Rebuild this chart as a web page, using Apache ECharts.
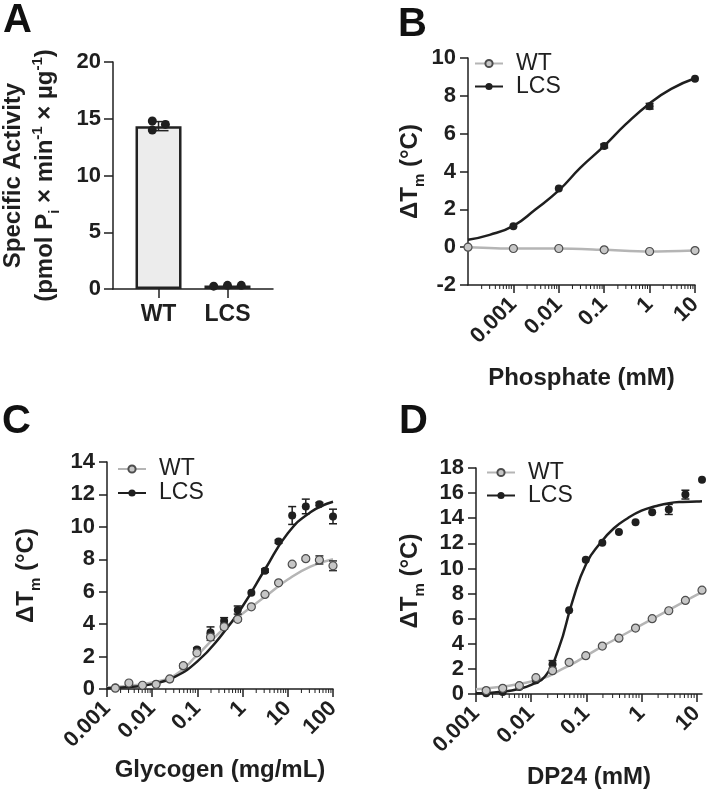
<!DOCTYPE html>
<html>
<head>
<meta charset="utf-8">
<script src="https://cdn.jsdelivr.net/npm/echarts@6/dist/echarts.min.js"></script>
<style>
  html, body { margin: 0; padding: 0; background: #fff; }
  #chart { width: 708px; height: 791px; }
</style>
</head>
<body>
<div id="chart"></div>
<script>
// ---- A: specific activity ----
const groups = ['WT', 'LCS']
const activityMean = [14.35, 0.3]
const activitySD = [0.4, 0]
const activityDots = [[14.8, 14.0, 14.5], [0.25, 0.32, 0.32]]
const dotJitter = [[-0.09, -0.09, 0.1], [-0.2, 0, 0.2]]

// ---- B: phosphate (first point is 0 mM, drawn at the axis start) ----
const phosX = [0.0001, 0.001, 0.01, 0.1, 1, 10]
const phosWT = [0, -0.07, -0.07, -0.14, -0.23, -0.18]
const phosLCSX = [0.001, 0.01, 0.1, 1, 10]
const phosLCS = [1.1, 3.1, 5.35, 7.45, 8.9]
const phosLCSErr = [0, 0, 0.1, 0.15, 0]
const phosFitX = [0.0001, 0.0003, 0.001, 0.003, 0.01, 0.03, 0.1, 0.3, 1, 3, 10]
const phosFitLCS = [0.39, 0.65, 1.13, 1.98, 3.0, 4.2, 5.35, 6.5, 7.6, 8.37, 8.93]
const phosTicks = [0.001, 0.01, 0.1, 1, 10]
const phosTickLabels = ['0.001', '0.01', '0.1', '1', '10']

// ---- C: glycogen ----
const glyX = [0.00153, 0.00305, 0.0061, 0.0122, 0.0244, 0.0488, 0.0977, 0.195, 0.39, 0.78, 1.5625, 3.125, 6.25, 12.5, 25, 50, 100]
const glyWT = [0.05, 0.37, 0.23, 0.29, 0.62, 1.44, 2.23, 3.2, 3.84, 4.3, 5.07, 5.83, 6.55, 7.7, 8.04, 7.96, 7.6]
const glyWTErr = [0, 0, 0, 0, 0, 0.1, 0.1, 0.2, 0.15, 0.1, 0, 0, 0, 0, 0.1, 0.25, 0.3]
const glyLCS = [0.1, 0.3, 0.2, 0.3, 0.6, 1.4, 2.43, 3.48, 4.2, 4.87, 5.94, 7.3, 9.09, 10.7, 11.26, 11.4, 10.64]
const glyLCSErr = [0, 0, 0, 0, 0, 0.1, 0.1, 0.35, 0.2, 0.25, 0, 0.1, 0.1, 0.55, 0.45, 0.1, 0.45]
const glyFitX = [0.001, 0.00316, 0.01, 0.0316, 0.1, 0.316, 1, 3.16, 10, 31.6, 100]
const glyFitWT = [0.1, 0.2, 0.4, 0.85, 2.1, 3.5, 4.65, 5.7, 6.75, 7.55, 8.0]
const glyFitLCS = [0.05, 0.12, 0.3, 0.75, 1.7, 3.2, 5.1, 7.4, 9.6, 10.9, 11.55]
const glyTicks = [0.001, 0.01, 0.1, 1, 10, 100]
const glyTickLabels = ['0.001', '0.01', '0.1', '1', '10', '100']

// ---- D: DP24 ----
const dpX = [0.00153, 0.00305, 0.0061, 0.0122, 0.0244, 0.0488, 0.0977, 0.195, 0.39, 0.78, 1.5625, 3.125, 6.25, 12.5]
const dpWT = [0.27, 0.45, 0.66, 1.3, 1.86, 2.52, 3.05, 3.82, 4.45, 5.25, 6.0, 6.63, 7.45, 8.27]
const dpLCS = [0.05, 0.15, 0.55, 1.1, 2.36, 6.68, 10.7, 12.04, 12.9, 13.68, 14.47, 14.7, 15.88, 17.07]
const dpLCSErr = [0, 0, 0, 0, 0.3, 0, 0, 0, 0, 0, 0, 0.4, 0.35, 0]
const dpFitX = [0.001, 0.00178, 0.00316, 0.00562, 0.01, 0.0178, 0.0316, 0.0562, 0.1, 0.178, 0.316, 0.562, 1, 1.78, 3.16, 5.62, 10, 12.5]
const dpFitWT = [0.38, 0.48, 0.6, 0.78, 1.0, 1.3, 1.85, 2.4, 3.05, 3.7, 4.3, 4.9, 5.5, 6.1, 6.7, 7.3, 7.9, 8.1]
const dpFitLCS = [0.05, 0.1, 0.19, 0.38, 0.72, 1.4, 3.63, 7.4, 10.4, 12.0, 13.2, 14.0, 14.6, 14.95, 15.2, 15.3, 15.33, 15.35]
const dpTicks = [0.001, 0.01, 0.1, 1, 10]
const dpTickLabels = ['0.001', '0.01', '0.1', '1', '10']

const FONT = '"Liberation Sans", Arial, sans-serif'
const INK = '#1f1f1f'
const GREY_LINE = '#b5b5b5'
const WT_FILL = '#c6c6c6'
const WT_EDGE = '#4d4d4d'

const pairs = (xs, ys) => xs.map((x, i) => [x, ys[i]])

// rich styles for the axis titles (sub/superscripts)
const titleRich = {
  a: { fontSize: 24, fontWeight: 'bold', fontFamily: FONT, color: INK, padding: [3, 0, 5, 0] },
  s: { fontSize: 15, fontWeight: 'bold', fontFamily: FONT, color: INK, verticalAlign: 'bottom' },
  u: { fontSize: 15, fontWeight: 'bold', fontFamily: FONT, color: INK, verticalAlign: 'top' }
}
const dTmTitle = '{a|ΔT}{s|m}{a| (°C)}'

function logLabel(ticks, labels) {
  return v => {
    const i = ticks.findIndex(t => Math.abs(Math.log10(v / t)) < 0.01)
    return i < 0 ? '' : labels[i]
  }
}

function yAxis(grid, min, max, interval, name, nameGap) {
  return {
    type: 'value', gridIndex: grid, min, max, interval,
    axisLine: { show: true, onZero: false, lineStyle: { color: INK, width: 1.5 } },
    axisTick: { show: true, length: 8, lineStyle: { color: INK, width: 1.5 } },
    axisLabel: { fontSize: 22, fontWeight: 'bold', color: INK, fontFamily: FONT, margin: 12 },
    splitLine: { show: false },
    name, nameLocation: 'middle', nameGap,
    nameTextStyle: { fontSize: 24, fontWeight: 'bold', color: INK, fontFamily: FONT, rich: titleRich }
  }
}

function logAxis(grid, min, max, ticks, labels, name, nameGap) {
  return {
    type: 'log', logBase: 10, gridIndex: grid, min, max,
    axisLine: { show: true, onZero: false, lineStyle: { color: INK, width: 1.5 } },
    axisTick: { show: true, length: 8, customValues: ticks, lineStyle: { color: INK, width: 1.5 } },
    axisLabel: {
      rotate: 45, fontSize: 22, fontWeight: 'bold', color: INK, fontFamily: FONT, margin: 16,
      customValues: ticks, formatter: logLabel(ticks, labels)
    },
    splitLine: { show: false },
    name, nameLocation: 'middle', nameGap,
    nameTextStyle: { fontSize: 24, fontWeight: 'bold', color: INK, fontFamily: FONT }
  }
}

// minor ticks of a log axis (2..9 of each decade)
function minorTicks(axis, lo, hi, yMin) {
  const vals = []
  for (let e = Math.floor(Math.log10(lo)); e <= Math.ceil(Math.log10(hi)); e++) {
    for (let m = 2; m <= 9; m++) {
      const v = m * Math.pow(10, e)
      if (v > lo * 1.001 && v < hi * 0.999) vals.push([v, yMin])
    }
  }
  return {
    type: 'custom', xAxisIndex: axis, yAxisIndex: axis, data: vals, clip: false, silent: true, z: 1,
    renderItem: (p, api) => {
      const c = api.coord([api.value(0), api.value(1)])
      return { type: 'line', shape: { x1: c[0], y1: c[1], x2: c[0], y2: c[1] + 4 }, style: { stroke: INK, lineWidth: 1 } }
    }
  }
}

function errorBars(axis, xs, ys, errs, color, cap, z) {
  const data = []
  xs.forEach((x, i) => { if (errs[i] > 0) data.push([x, ys[i] - errs[i], ys[i] + errs[i]]) })
  return {
    type: 'custom', xAxisIndex: axis, yAxisIndex: axis, data, encode: { x: 0, y: [1, 2] },
    silent: true, clip: false, z: z || 3,
    renderItem: (p, api) => {
      const lo = api.coord([api.value(0), api.value(1)])
      const hi = api.coord([api.value(0), api.value(2)])
      const st = { stroke: color, lineWidth: 1.5 }
      return {
        type: 'group', children: [
          { type: 'line', shape: { x1: lo[0], y1: lo[1], x2: hi[0], y2: hi[1] }, style: st },
          { type: 'line', shape: { x1: hi[0] - cap, y1: hi[1], x2: hi[0] + cap, y2: hi[1] }, style: st },
          { type: 'line', shape: { x1: lo[0] - cap, y1: lo[1], x2: lo[0] + cap, y2: lo[1] }, style: st }
        ]
      }
    }
  }
}

function fitLine(axis, xs, ys, color, z) {
  return {
    name: 'fit', type: 'line', xAxisIndex: axis, yAxisIndex: axis, data: pairs(xs, ys),
    smooth: 0.5, showSymbol: false, symbol: 'none', silent: true, z: z,
    lineStyle: { color, width: 2.5 }
  }
}

function wtPoints(axis, xs, ys) {
  return {
    name: 'WT points', type: 'scatter', xAxisIndex: axis, yAxisIndex: axis, data: pairs(xs, ys),
    symbolSize: 8, z: 6, itemStyle: { color: WT_FILL, borderColor: WT_EDGE, borderWidth: 1.2, opacity: 1 }
  }
}

function lcsPoints(axis, xs, ys) {
  return {
    name: 'LCS points', type: 'scatter', xAxisIndex: axis, yAxisIndex: axis, data: pairs(xs, ys),
    symbolSize: 8, z: 5, itemStyle: { color: INK, opacity: 1 }
  }
}

function legendAt(left, top, rowHeight) {
  return {
    data: ['WT', 'LCS'], orient: 'vertical', left, top, padding: 0, itemGap: 0,
    itemWidth: 28, itemHeight: 9, selectedMode: false,
    textStyle: { fontSize: 23, lineHeight: rowHeight, color: INK, fontFamily: FONT, padding: [0, 0, 0, 8] }
  }
}

const chart = echarts.init(document.getElementById('chart'))

const option = {
  backgroundColor: '#fff',
  animation: false,
  textStyle: { fontFamily: FONT },
  grid: [
    { left: 108, top: 62, width: 165, height: 227 },
    { left: 468, top: 58, width: 227, height: 227 },
    { left: 107, top: 462, width: 226, height: 227 },
    { left: 476, top: 468, width: 226, height: 226 }
  ],
  xAxis: [
    {
      type: 'value', gridIndex: 0, min: 0.34, max: 2.66,
      axisLine: { show: true, onZero: false, lineStyle: { color: INK, width: 1.5 } },
      axisTick: { show: true, length: 9, customValues: [1, 2], lineStyle: { color: INK, width: 1.5 } },
      axisLabel: {
        fontSize: 23, fontWeight: 'bold', color: INK, fontFamily: FONT, margin: 14,
        customValues: [1, 2], formatter: v => groups[Math.round(v) - 1] || ''
      },
      splitLine: { show: false }
    },
    logAxis(1, 0.0001, 10, phosTicks, phosTickLabels, 'Phosphate (mM)', 81),
    logAxis(2, 0.001, 100, glyTicks, glyTickLabels, 'Glycogen (mg/mL)', 69),
    logAxis(3, 0.001, 12.5, dpTicks, dpTickLabels, 'DP24 (mM)', 71)
  ],
  yAxis: [
    Object.assign(yAxis(0, 0, 20, 5,
      '{a|Specific Activity}\n{a|(pmol P}{s|i}{a| × min}{u|-1}{a| × µg}{u|-1}{a|)}', 51),
      { axisTick: { show: true, length: 9, lineStyle: { color: INK, width: 1.5 } } }),
    yAxis(1, -2, 10, 2, dTmTitle, 41),
    yAxis(2, 0, 14, 2, dTmTitle, 64),
    yAxis(3, 0, 18, 2, dTmTitle, 49)
  ],
  legend: [
    legendAt(474, 52, 20),
    legendAt(117, 457, 24),
    legendAt(486, 461, 21.6)
  ],
  graphic: [
    { type: 'text', left: 3, top: 1, style: { text: 'A', fill: '#111', font: 'bold 40px ' + FONT } },
    { type: 'text', left: 398, top: 5, style: { text: 'B', fill: '#111', font: 'bold 40px ' + FONT } },
    { type: 'text', left: 2, top: 402, style: { text: 'C', fill: '#111', font: 'bold 40px ' + FONT } },
    { type: 'text', left: 399, top: 402, style: { text: 'D', fill: '#111', font: 'bold 40px ' + FONT } }
  ],
  series: [
    // legend keys
    {
      name: 'WT', type: 'line', xAxisIndex: 1, yAxisIndex: 1, data: [], symbol: 'circle', symbolSize: 7,
      itemStyle: { color: WT_FILL, borderColor: WT_EDGE, borderWidth: 1 }, lineStyle: { color: GREY_LINE, width: 2.5 }
    },
    {
      name: 'LCS', type: 'line', xAxisIndex: 1, yAxisIndex: 1, data: [], symbol: 'circle', symbolSize: 7,
      itemStyle: { color: INK }, lineStyle: { color: INK, width: 2.5 }
    },

    // A
    {
      name: 'mean', type: 'bar', xAxisIndex: 0, yAxisIndex: 0, barWidth: 46, z: 2,
      data: activityMean.map((v, i) => [i + 1, v]),
      itemStyle: { color: '#ececec', borderColor: '#222', borderWidth: 2.5 }
    },
    errorBars(0, [1, 2], activityMean, activitySD, '#222', 10, 4),
    {
      name: 'replicates', type: 'scatter', xAxisIndex: 0, yAxisIndex: 0, symbolSize: 9, z: 5,
      data: activityDots.flatMap((vals, g) => vals.map((v, k) => [g + 1 + dotJitter[g][k], v])),
      itemStyle: { color: INK, opacity: 1 }
    },

    // B
    minorTicks(1, 0.0001, 10, -2),
    fitLine(1, phosFitX, phosFitLCS, INK, 3),
    {
      name: 'WT line', type: 'line', xAxisIndex: 1, yAxisIndex: 1, data: pairs(phosX, phosWT),
      smooth: 0.3, symbol: 'circle', symbolSize: 8, z: 4,
      lineStyle: { color: GREY_LINE, width: 2.5 },
      itemStyle: { color: WT_FILL, borderColor: WT_EDGE, borderWidth: 1.2 }
    },
    errorBars(1, phosLCSX, phosLCS, phosLCSErr, INK, 4),
    lcsPoints(1, phosLCSX, phosLCS),

    // C
    minorTicks(2, 0.001, 100, 0),
    fitLine(2, glyFitX, glyFitWT, GREY_LINE, 2),
    fitLine(2, glyFitX, glyFitLCS, INK, 3),
    errorBars(2, glyX, glyLCS, glyLCSErr, INK, 4),
    errorBars(2, glyX, glyWT, glyWTErr, '#333', 4),
    lcsPoints(2, glyX, glyLCS),
    wtPoints(2, glyX, glyWT),

    // D
    minorTicks(3, 0.001, 12.5, 0),
    fitLine(3, dpFitX, dpFitWT, GREY_LINE, 2),
    fitLine(3, dpFitX, dpFitLCS, INK, 3),
    errorBars(3, dpX, dpLCS, dpLCSErr, INK, 4),
    lcsPoints(3, dpX, dpLCS),
    wtPoints(3, dpX, dpWT)
  ]
}

chart.setOption(option)
</script>
</body>
</html>
